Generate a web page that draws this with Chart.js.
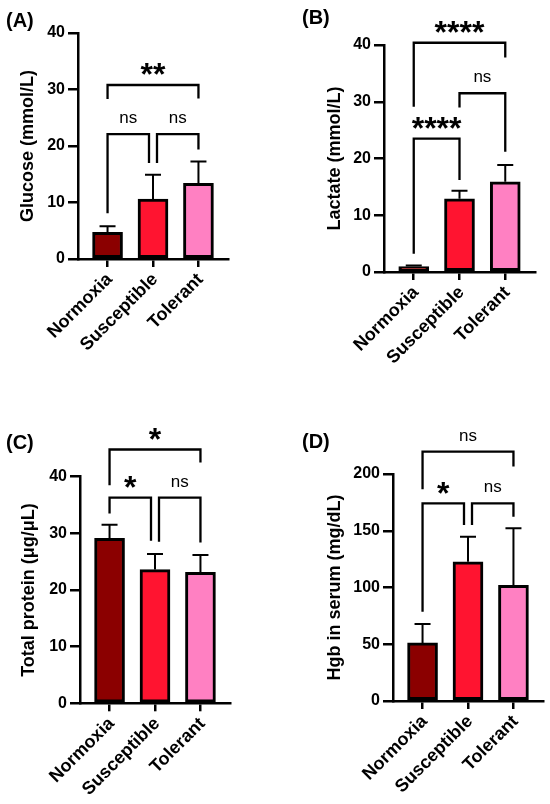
<!DOCTYPE html>
<html><head><meta charset="utf-8">
<script src="https://cdn.jsdelivr.net/npm/chart.js@4.4.1/dist/chart.umd.min.js"></script>
<style>
html,body{margin:0;padding:0;background:#fff;width:550px;height:804px;overflow:hidden}
canvas{position:absolute}
</style></head><body>
<canvas id="cA" width="275" height="400" style="left:0;top:0"></canvas>
<canvas id="cB" width="275" height="400" style="left:275px;top:0"></canvas>
<canvas id="cC" width="275" height="404" style="left:0;top:400px"></canvas>
<canvas id="cD" width="275" height="404" style="left:275px;top:400px"></canvas>
<script>
// ---------- data ----------
const categories = ['Normoxia', 'Susceptible', 'Tolerant'];

const glucoseMean = [4.7, 10.6, 13.4];
const glucoseSD   = [1.1, 4.3, 3.85];
const glucoseTicks = [0, 10, 20, 30, 40];
// [fromIndex, toIndex, bracketY, leftLegEndY, rightLegEndY, label]
const glucoseBrackets = [
  [0, 2, 30.8, 28.3, 28.4, '**'],
  [0, 1, 22.1, 8.1, 17.0, 'ns'],
  [1, 2, 22.1, 17.0, 19.4, 'ns']
];

const lactateMean = [0.95, 12.9, 15.9];
const lactateSD   = [0.2, 1.4, 2.95];
const lactateTicks = [0, 10, 20, 30, 40];
const lactateBrackets = [
  [0, 2, 40.4, 29.1, 37.8, '****'],
  [1, 2, 31.5, 29.0, 21.2, 'ns'],
  [0, 1, 23.5, 3.2, 16.2, '****']
];

const proteinMean = [29.1, 23.6, 23.1];
const proteinSD   = [2.4, 2.75, 3.1];
const proteinTicks = [0, 10, 20, 30, 40];
const proteinBrackets = [
  [0, 2, 44.8, 38.5, 42.5, '*'],
  [0, 1, 36.3, 33.5, 28.7, '*'],
  [1, 2, 36.3, 28.5, 28.4, 'ns']
];

const hgbMean = [51.2, 122.6, 102.0];
const hgbSD   = [16.6, 22.2, 50.1];
const hgbTicks = [0, 50, 100, 150, 200];
const hgbBrackets = [
  [0, 2, 219.7, 186.5, 206.5, 'ns'],
  [0, 1, 174.2, 78.7, 155.1, '*'],
  [1, 2, 174.2, 155.1, 162.4, 'ns']
];

// ---------- style ----------
const FONT = "'Liberation Sans', Arial, sans-serif";
const barColors = ['#8b0000', '#ff1430', '#ff80c2'];
const TITLE_SIZE = 18;

function makePanel(id, tag, yTitle, mean, sd, ticks, brackets, L) {
  const canvas = document.getElementById(id);
  const W = canvas.width, H = canvas.height;
  const titleOffset = TITLE_SIZE / 2;   // lineHeight 1, padding 0
  const padLeft = L.titleX - titleOffset;
  const yWidth = L.axisX - padLeft;
  const XH = H - L.bottom;

  const sigPlugin = {
    id: 'sig' + id,
    afterDatasetsDraw(chart) {
      const ctx = chart.ctx;
      const xs = chart.scales.x, ys = chart.scales.y;
      ctx.save();
      // error bars (upper only)
      ctx.strokeStyle = '#000';
      ctx.lineWidth = 2;
      ctx.lineCap = 'butt';
      mean.forEach((m, i) => {
        const x = xs.getPixelForValue(i);
        const y0 = ys.getPixelForValue(m);
        const y1 = ys.getPixelForValue(m + sd[i]);
        ctx.beginPath();
        ctx.moveTo(x, y0); ctx.lineTo(x, y1);
        ctx.moveTo(x - 8, y1); ctx.lineTo(x + 8, y1);
        ctx.stroke();
      });
      // brackets
      ctx.lineWidth = 2.3;
      ctx.lineJoin = 'miter';
      brackets.forEach(b => {
        const [i, j, yv, yl, yr, label] = b;
        let xl = xs.getPixelForValue(i), xr = xs.getPixelForValue(j);
        brackets.forEach(o => {
          if (o === b || Math.abs(o[2] - yv) > 1e-6) return;
          if (o[1] === i) xl += 4;
          if (o[0] === j) xr -= 4;
        });
        const py = ys.getPixelForValue(yv);
        ctx.beginPath();
        ctx.moveTo(xl, ys.getPixelForValue(yl));
        ctx.lineTo(xl, py);
        ctx.lineTo(xr, py);
        ctx.lineTo(xr, ys.getPixelForValue(yr));
        ctx.stroke();
        const isStar = label.indexOf('*') >= 0;
        ctx.font = isStar ? `bold 32px ${FONT}` : `17px ${FONT}`;
        ctx.fillStyle = '#000';
        ctx.textAlign = 'center';
        ctx.textBaseline = 'alphabetic';
        const m = ctx.measureText(label);
        const cy = py - 15.5;
        const base = cy + (m.actualBoundingBoxAscent - m.actualBoundingBoxDescent) / 2;
        ctx.fillText(label, (xl + xr) / 2, base);
      });
      // panel tag
      ctx.font = `bold 20px ${FONT}`;
      ctx.textAlign = 'left';
      const mt = ctx.measureText(tag);
      ctx.fillText(tag, L.tagX, L.tagY + (mt.actualBoundingBoxAscent - mt.actualBoundingBoxDescent) / 2);
      ctx.restore();
    }
  };

  return new Chart(canvas, {
    type: 'bar',
    data: {
      datasets: [{
        data: categories.map((c, i) => ({x: i, y: mean[i]})),
        backgroundColor: barColors,
        borderColor: '#000',
        borderWidth: 3,
        borderSkipped: false,
        barThickness: 30
      }]
    },
    options: {
      responsive: false,
      animation: false,
      devicePixelRatio: 1,
      layout: {padding: {left: padLeft, right: W - L.right, top: L.top, bottom: 0}},
      plugins: {legend: {display: false}, tooltip: {enabled: false}, title: {display: false}},
      scales: {
        x: {
          type: 'linear', min: -0.65, max: 2.65, offset: false, bounds: 'data',
          afterBuildTicks: s => { s.ticks = categories.map((c, i) => ({value: i})); },
          afterFit: s => { s.height = XH; },
          ticks: {
            callback: v => categories[v],
            autoSkip: false, minRotation: 45, maxRotation: 45,
            font: {family: FONT, size: 18, weight: 'bold'}, color: '#000',
            padding: 2, labelOffset: 2
          },
          grid: {display: true, offset: false, drawOnChartArea: false, drawTicks: true, tickLength: 8, color: '#000', lineWidth: 2.5},
          border: {display: true, color: '#000', width: 2.5}
        },
        y: {
          min: ticks[0], max: ticks[ticks.length - 1],
          afterBuildTicks: s => { s.ticks = ticks.map(v => ({value: v})); },
          afterFit: s => { s.width = yWidth; },
          title: {display: true, text: yTitle, color: '#000', padding: 0,
                  font: {family: FONT, size: TITLE_SIZE, weight: 'bold', lineHeight: 1}},
          ticks: {font: {family: FONT, size: 16, weight: 'bold'}, color: '#000', padding: 3},
          grid: {display: true, drawOnChartArea: false, drawTicks: true, tickLength: 10, color: '#000', lineWidth: 2.5},
          border: {display: true, color: '#000', width: 2.5}
        }
      }
    },
    plugins: [sigPlugin]
  });
}

makePanel('cA', '(A)', 'Glucose (mmol/L)', glucoseMean, glucoseSD, glucoseTicks, glucoseBrackets,
  {axisX: 78, right: 228, top: 33, bottom: 259, titleX: 28.5, tagX: 6, tagY: 21.7});
makePanel('cB', '(B)', 'Lactate (mmol/L)', lactateMean, lactateSD, lactateTicks, lactateBrackets,
  {axisX: 109, right: 260, top: 45, bottom: 272, titleX: 60, tagX: 27, tagY: 18.3});
makePanel('cC', '(C)', 'Total protein (\u03bcg/\u03bcL)', proteinMean, proteinSD, proteinTicks, proteinBrackets,
  {axisX: 80, right: 230, top: 76.7, bottom: 303.3, titleX: 29.5, tagX: 6, tagY: 43.3});
makePanel('cD', '(D)', 'Hgb in serum (mg/dL)', hgbMean, hgbSD, hgbTicks, hgbBrackets,
  {axisX: 118, right: 268, top: 74, bottom: 301, titleX: 60, tagX: 27, tagY: 42.5});
</script>
</body></html>
